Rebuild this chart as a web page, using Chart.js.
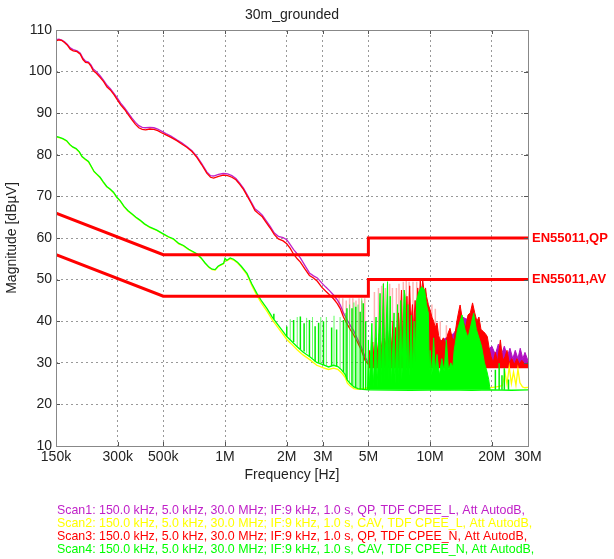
<!DOCTYPE html>
<html>
<head>
<meta charset="utf-8">
<script src="https://cdn.jsdelivr.net/npm/chart.js@4"></script>
<style>
  html, body { margin: 0; padding: 0; background: #fff; }
</style>
</head>
<body>
<canvas id="emc" width="614" height="559"></canvas>
<script>
// axis ticks
const freqTicks = [150e3, 300e3, 500e3, 1e6, 2e6, 3e6, 5e6, 10e6, 20e6, 30e6];
const freqTickLabels = ['150k', '300k', '500k', '1M', '2M', '3M', '5M', '10M', '20M', '30M'];

// EN55011 limits
const limitFreq = [150e3, 500e3, 5e6, 5e6, 30e6];
const limitQP = [66, 56, 56, 60, 60];
const limitAV = [56, 46, 46, 50, 50];

// Scan1 (QP, L) - magenta
const scan1Line = [[150e3,107.7],[155e3,107.8],[160e3,107.6],[165e3,107.2],[170e3,106.6],[176e3,105.7],[182e3,105.3],[190e3,105.0],[197e3,104.4],[203e3,103.2],[209e3,102.5],[216e3,102.3],[222e3,101.6],[228e3,100.6],[236e3,100.0],[246e3,99.0],[256e3,97.9],[266e3,96.7],[276e3,95.9],[288e3,94.7],[297e3,93.8],[310e3,92.4],[324e3,91.3],[338e3,90.0],[352e3,88.8],[366e3,87.8],[380e3,87.0],[395e3,86.6],[410e3,86.5],[430e3,86.6],[450e3,86.5],[470e3,86.2],[490e3,85.7],[515e3,85.1],[545e3,84.5],[582e3,83.6],[615e3,82.9],[651e3,82.0],[690e3,81.0],[729e3,79.6],[770e3,77.9],[815e3,75.9],[850e3,75.0],[880e3,74.9],[930e3,75.3],[980e3,75.5],[1.03e6,75.4],[1.08e6,75.0],[1.13e6,74.3],[1.18e6,73.2],[1.23e6,72.0],[1.28e6,70.5],[1.34e6,68.7],[1.40e6,67.0],[1.46e6,66.3],[1.52e6,65.5],[1.58e6,64.3],[1.66e6,62.8],[1.74e6,61.2],[1.82e6,60.4],[1.92e6,60.1],[2.0e6,59.6],[2.08e6,58.4],[2.16e6,57.2],[2.25e6,56.2],[2.33e6,55.2],[2.45e6,53.4],[2.58e6,51.6],[2.7e6,50.9],[2.82e6,50.4],[2.96e6,49.2],[3.1e6,48.2],[3.24e6,47.3],[3.38e6,46.3],[3.52e6,45.2],[3.64e6,44.0],[3.78e6,42.0],[3.93e6,40.4],[4.08e6,39.0],[4.23e6,37.8],[4.42e6,35.8],[4.62e6,33.8],[4.82e6,31.4],[5.0e6,30.0]];
const scan1Env = [[5.0e6,30.0],[5.5e6,32.0],[6.0e6,34.0],[6.5e6,33.0],[7.0e6,35.0],[7.5e6,34.0],[8.0e6,36.0],[8.5e6,35.0],[9.0e6,36.0],[9.5e6,37.0],[10.0e6,35.0],[10.5e6,34.0],[11.0e6,35.0],[12.0e6,36.0],[13.0e6,37.0],[13.8e6,39.0],[14.4e6,41.0],[15.0e6,40.5],[15.6e6,41.0],[16.2e6,40.0],[17.0e6,37.0],[18.0e6,35.0],[19.0e6,33.0],[20.0e6,34.0],[20.8e6,32.0],[21.5e6,34.5],[22.3e6,32.0],[23.0e6,34.0],[23.8e6,31.5],[24.5e6,33.5],[25.3e6,31.0],[26.0e6,33.0],[26.8e6,31.0],[27.5e6,33.5],[28.3e6,31.0],[29.0e6,32.5],[30.0e6,30.5]];

// Scan2 (CAV, L) - yellow
const scan2Line = [[150e3,84.3],[156e3,84.1],[162e3,83.8],[169e3,83.3],[175e3,82.4],[181e3,81.8],[188e3,81.4],[195e3,80.6],[201e3,79.5],[208e3,78.9],[216e3,78.3],[223e3,77.1],[230e3,75.9],[238e3,75.2],[246e3,74.5],[255e3,73.4],[265e3,72.3],[275e3,71.7],[286e3,70.9],[297e3,69.7],[308e3,68.9],[322e3,67.5],[336e3,66.5],[350e3,65.8],[368e3,64.9],[385e3,64.2],[405e3,63.3],[431e3,62.5],[465e3,61.8],[500e3,60.9],[530e3,60.2],[560e3,59.7],[595e3,58.6],[627e3,58.1],[665e3,57.2],[700e3,56.6],[729e3,56.1],[765e3,55.1],[800e3,53.9],[835e3,52.9],[865e3,52.4],[895e3,52.3],[925e3,53.1],[955e3,53.5],[985e3,53.8],[1.0e6,54.9],[1.02e6,54.5],[1.06e6,55.0],[1.1e6,54.7],[1.15e6,54.0],[1.2e6,53.0],[1.28e6,51.2],[1.35e6,48.6],[1.43e6,46.2],[1.51e6,44.2],[1.6e6,42.4],[1.7e6,40.3],[1.79e6,38.8],[1.9e6,37.1],[2.0e6,35.6],[2.1e6,34.6],[2.24e6,33.2],[2.4e6,31.9],[2.6e6,30.7],[2.8e6,29.4],[3.02e6,28.8],[3.2e6,28.4],[3.38e6,28.7],[3.55e6,28.4],[3.7e6,27.6],[3.85e6,26.5],[3.95e6,25.1],[4.08e6,24.4],[4.25e6,23.8],[4.45e6,23.6],[4.7e6,23.8],[5.0e6,24.0],[5.3e6,24.3],[5.6e6,24.0],[5.9e6,25.2],[6.15e6,26.5],[6.3e6,25.0],[6.6e6,24.2],[6.9e6,25.6],[7.2e6,24.4],[7.5e6,25.8],[7.8e6,24.6],[8.1e6,26.2],[8.5e6,24.8],[9.0e6,26.4],[9.3e6,27.0],[9.6e6,25.0],[10.0e6,26.0],[10.4e6,26.6],[10.8e6,25.0],[11.3e6,26.0],[11.8e6,24.6],[12.4e6,25.0],[13.0e6,24.0],[14.0e6,24.3],[15.0e6,23.9],[17.0e6,24.0],[19.0e6,23.9],[21.0e6,24.2],[22.5e6,24.5],[23.2e6,27.5],[23.7e6,24.8],[24.3e6,29.0],[24.9e6,25.0],[25.5e6,27.8],[26.2e6,24.6],[26.8e6,28.5],[27.4e6,25.2],[28.2e6,24.2],[29.0e6,24.0],[30.0e6,24.1]];

// Scan3 (QP, N) - red
const scan3Line = [[150e3,107.4],[155e3,107.6],[160e3,107.5],[165e3,107.0],[170e3,106.4],[176e3,105.4],[182e3,105.0],[190e3,104.8],[197e3,104.2],[203e3,102.9],[209e3,102.2],[216e3,102.1],[222e3,101.3],[228e3,100.2],[236e3,99.6],[246e3,98.6],[256e3,97.6],[266e3,96.3],[276e3,95.6],[288e3,94.4],[297e3,93.4],[310e3,92.0],[324e3,90.9],[338e3,89.6],[352e3,88.4],[366e3,87.3],[380e3,86.5],[395e3,86.1],[410e3,86.0],[430e3,86.2],[450e3,86.1],[470e3,85.8],[490e3,85.3],[515e3,84.8],[545e3,84.2],[582e3,83.4],[615e3,82.6],[651e3,81.8],[690e3,80.8],[729e3,79.4],[770e3,77.6],[815e3,75.6],[850e3,74.6],[880e3,74.4],[930e3,74.8],[980e3,75.1],[1.03e6,75.0],[1.08e6,74.6],[1.13e6,74.0],[1.18e6,72.9],[1.23e6,71.7],[1.28e6,70.2],[1.34e6,68.4],[1.40e6,66.6],[1.46e6,65.8],[1.52e6,65.1],[1.58e6,63.9],[1.66e6,62.4],[1.74e6,60.8],[1.82e6,59.8],[1.92e6,59.3],[2.0e6,58.6],[2.08e6,57.5],[2.16e6,56.1],[2.25e6,55.0],[2.33e6,54.2],[2.45e6,52.6],[2.58e6,51.0],[2.7e6,50.4],[2.82e6,49.6],[2.96e6,48.2],[3.1e6,47.2],[3.24e6,46.3],[3.38e6,45.4],[3.52e6,44.3],[3.64e6,43.1],[3.78e6,41.0],[3.93e6,39.4],[4.08e6,38.0],[4.23e6,36.8],[4.42e6,35.0],[4.62e6,33.0],[4.82e6,30.6],[5.0e6,29.6]];
const scan3Env = [[5.0e6,29.6],[5.08e6,33.0],[5.15e6,30.5],[5.25e6,35.0],[5.32e6,31.0],[5.45e6,36.0],[5.52e6,32.0],[5.65e6,37.0],[5.75e6,33.0],[5.88e6,36.0],[5.92e6,49.0],[5.97e6,36.0],[6.1e6,34.0],[6.2e6,38.0],[6.3e6,33.5],[6.39e6,37.0],[6.5e6,34.0],[6.6e6,40.0],[6.68e6,34.0],[6.8e6,38.5],[6.9e6,35.0],[7.0e6,42.0],[7.1e6,36.0],[7.25e6,47.5],[7.33e6,37.0],[7.45e6,40.0],[7.55e6,36.0],[7.71e6,46.0],[7.8e6,38.0],[7.95e6,48.5],[8.05e6,39.0],[8.2e6,44.0],[8.3e6,38.0],[8.45e6,45.0],[8.55e6,40.0],[8.7e6,48.0],[8.85e6,44.0],[8.95e6,50.0],[9.1e6,46.0],[9.2e6,50.0],[9.35e6,47.0],[9.5e6,48.0],[9.6e6,46.0],[9.8e6,44.0],[10.0e6,42.7],[10.2e6,41.0],[10.4e6,40.0],[10.6e6,38.5],[10.8e6,39.6],[11.0e6,36.5],[11.3e6,35.0],[11.6e6,36.0],[11.9e6,34.5],[12.2e6,37.0],[12.5e6,38.3],[12.8e6,36.0],[13.1e6,35.5],[13.5e6,40.0],[13.8e6,42.5],[14.0e6,43.9],[14.3e6,41.0],[14.6e6,39.5],[14.9e6,38.5],[15.3e6,41.5],[15.7e6,42.0],[16.1e6,44.4],[16.5e6,42.0],[16.9e6,40.0],[17.3e6,41.0],[17.7e6,38.0],[18.2e6,37.5],[18.6e6,37.0],[19.0e6,36.3],[19.4e6,33.5],[19.8e6,31.5],[20.3e6,30.0],[20.8e6,32.5],[21.3e6,30.2],[22.0e6,35.5],[22.6e6,30.5],[23.2e6,31.5],[23.7e6,33.0],[24.3e6,30.0],[25.0e6,31.0],[25.7e6,29.6],[26.5e6,31.0],[27.2e6,29.7],[28.0e6,30.6],[29.0e6,29.6],[30.0e6,30.0]];
// faint red spikes [freq, low, high]
const scan3Pale = [[3.45e6,45.0,46.0],[3.6e6,43.6,46.0],[3.75e6,41.4,45.5],[3.9e6,39.7,45.0],[4.05e6,38.3,45.5],[4.2e6,37.0,45.5],[4.35e6,35.8,45.0],[4.5e6,34.3,45.5],[4.65e6,32.7,45.0],[4.8e6,30.9,45.5],[5.35e6,31.0,47.0],[5.6e6,33.0,48.0],[5.8e6,34.0,48.5],[6.05e6,35.0,48.0],[6.35e6,34.0,49.0],[6.55e6,35.0,48.0],[6.85e6,36.0,48.0],[7.05e6,38.0,49.0],[7.4e6,38.0,49.5],[7.65e6,38.0,49.8],[7.9e6,40.0,49.5],[8.25e6,40.0,49.5],[8.6e6,42.0,49.5],[10.2e6,41.0,44.0],[10.6e6,38.5,43.0],[11.2e6,35.0,40.0],[12.0e6,35.0,39.0]];

// Scan4 (CAV, N) - green
const scan4Line = [[150e3,84.4],[156e3,84.2],[162e3,83.9],[169e3,83.4],[175e3,82.5],[181e3,81.9],[188e3,81.5],[195e3,80.7],[201e3,79.6],[208e3,79.0],[216e3,78.4],[223e3,77.2],[230e3,76.0],[238e3,75.3],[246e3,74.6],[255e3,73.5],[265e3,72.4],[275e3,71.8],[286e3,71.0],[297e3,69.8],[308e3,69.0],[322e3,67.6],[336e3,66.6],[350e3,65.9],[368e3,65.0],[385e3,64.3],[405e3,63.4],[431e3,62.6],[465e3,61.9],[500e3,61.0],[530e3,60.3],[560e3,59.8],[595e3,58.7],[627e3,58.2],[665e3,57.3],[700e3,56.7],[729e3,56.2],[765e3,55.2],[800e3,54.0],[835e3,53.0],[865e3,52.5],[895e3,52.4],[925e3,53.2],[955e3,53.6],[985e3,53.9],[1.0e6,55.1],[1.02e6,54.6],[1.06e6,55.2],[1.1e6,54.9],[1.15e6,54.2],[1.2e6,53.2],[1.28e6,51.5],[1.35e6,49.0],[1.43e6,46.7],[1.51e6,44.8],[1.6e6,43.1],[1.7e6,41.0],[1.79e6,39.5],[1.9e6,37.8],[2.0e6,36.3],[2.1e6,35.3],[2.24e6,33.9],[2.4e6,32.6],[2.6e6,31.4],[2.8e6,30.1],[3.02e6,29.5],[3.2e6,29.0],[3.38e6,29.4],[3.55e6,29.1],[3.7e6,28.3],[3.85e6,27.2],[3.95e6,25.8],[4.08e6,25.0],[4.25e6,24.2],[4.45e6,23.8],[4.7e6,23.6],[5.0e6,23.5],[8.0e6,23.4],[12.0e6,23.5],[16.0e6,23.4],[20.0e6,23.5],[25.0e6,23.4],[30.0e6,23.5]];
const scan4Env = [[4.95e6,23.5],[5.0e6,35.5],[5.05e6,23.5],[5.2e6,39.5],[5.28e6,24.0],[5.45e6,41.0],[5.52e6,24.0],[5.7e6,46.7],[5.78e6,25.0],[5.92e6,49.0],[6.0e6,26.0],[6.2e6,49.5],[6.28e6,26.0],[6.39e6,46.0],[6.48e6,25.0],[6.67e6,42.0],[6.75e6,25.0],[6.94e6,44.0],[7.02e6,25.0],[7.2e6,45.0],[7.28e6,26.0],[7.47e6,47.5],[7.55e6,45.9],[7.7e6,28.0],[7.8e6,44.0],[7.9e6,27.0],[8.1e6,41.5],[8.2e6,28.0],[8.35e6,40.0],[8.45e6,30.0],[8.6e6,45.0],[8.8e6,47.0],[9.1e6,48.3],[9.4e6,47.5],[9.6e6,44.0],[9.8e6,42.0],[9.9e6,28.0],[10.0e6,33.0],[10.2e6,27.0],[10.4e6,36.0],[10.6e6,28.0],[10.8e6,32.0],[11.1e6,27.0],[11.4e6,31.0],[11.7e6,28.0],[12.0e6,35.5],[12.3e6,28.0],[12.6e6,30.0],[12.9e6,29.0],[13.1e6,33.0],[13.6e6,38.0],[14.0e6,40.0],[14.3e6,41.5],[14.8e6,38.0],[15.3e6,36.0],[15.8e6,39.0],[16.3e6,41.9],[16.8e6,38.0],[17.3e6,36.0],[17.8e6,34.0],[18.4e6,30.0],[18.9e6,28.0],[19.3e6,26.0],[19.6e6,23.5]];
// spikes [freq, low, high]
const scan4Spikes = [[1.73e6,40.5,41.8],[2.0e6,36.3,38.7],[2.16e6,35.0,40.3],[2.33e6,33.3,41.1],[2.43e6,32.7,39.5],[2.58e6,31.5,40.3],[2.75e6,30.3,38.8],[2.86e6,30.0,39.6],[3.02e6,29.5,40.0],[3.31e6,29.3,38.5],[3.5e6,29.1,38.0],[3.78e6,27.8,40.3],[3.93e6,26.0,43.1],[4.16e6,24.6,43.1],[4.34e6,24.0,43.5],[4.56e6,23.6,42.3],[4.72e6,23.5,44.3],[4.85e6,23.5,40.0],[20.8e6,23.5,28.3],[21.7e6,23.5,29.9],[22.4e6,23.5,27.0],[23.0e6,23.5,28.7],[24.1e6,23.5,26.0]];
const scan4Pale = [[2.08e6,35.5,40.5],[2.25e6,33.8,41.0],[2.5e6,32.4,40.8],[2.67e6,31.1,41.0],[2.93e6,29.8,41.0],[3.12e6,29.3,41.0],[3.4e6,29.4,41.3],[3.64e6,28.6,41.0],[3.86e6,27.1,42.0],[4.05e6,25.1,44.0],[4.25e6,24.2,44.5],[4.45e6,23.8,44.0],[4.64e6,23.6,45.5]];

const scanLabels = [
  'Scan1: 150.0 kHz, 5.0 kHz, 30.0 MHz; IF:9 kHz, 1.0 s, QP, TDF CPEE_L, Att AutodB,',
  'Scan2: 150.0 kHz, 5.0 kHz, 30.0 MHz; IF:9 kHz, 1.0 s, CAV, TDF CPEE_L, Att AutodB,',
  'Scan3: 150.0 kHz, 5.0 kHz, 30.0 MHz; IF:9 kHz, 1.0 s, QP, TDF CPEE_N, Att AutodB,',
  'Scan4: 150.0 kHz, 5.0 kHz, 30.0 MHz; IF:9 kHz, 1.0 s, CAV, TDF CPEE_N, Att AutodB,'
];
const scanColors = ['#c020c8', '#ffff00', '#ff0000', '#00ff00'];

const FONT = "'Liberation Sans', Arial, Helvetica, sans-serif";
Chart.defaults.font.family = FONT;

function pts(list) {
  return list.map(p => ({x: p[0], y: p[1]}));
}
function spikes(list) {
  const out = [];
  list.forEach(s => {
    out.push({x: s[0], y: s[1]}, {x: s[0], y: s[2]}, {x: s[0], y: s[1]}, {x: s[0], y: null});
  });
  return out;
}
function limitPts(vals) {
  return limitFreq.map((f, i) => ({x: f, y: vals[i]}));
}

function line(data, color, width, order, extra) {
  return Object.assign({
    data: data, borderColor: color, borderWidth: width, pointRadius: 0,
    tension: 0, fill: false, order: order
  }, extra || {});
}

// draws title, frame, inner ticks, limit names and scan notes
const frame = {
  id: 'frame',
  afterDatasetsDraw(chart) {
    const {ctx, chartArea: a, scales} = chart;
    ctx.save();
    ctx.strokeStyle = '#555';
    ctx.lineWidth = 1;
    freqTicks.slice(1, -1).forEach(f => {
      const x = Math.round(scales.x.getPixelForValue(f)) + 0.5;
      ctx.beginPath();
      ctx.moveTo(x, a.bottom); ctx.lineTo(x, a.bottom - 4);
      ctx.moveTo(x, a.top); ctx.lineTo(x, a.top + 4);
      ctx.stroke();
    });
    for (let v = 20; v <= 100; v += 10) {
      const y = Math.round(scales.y.getPixelForValue(v)) + 0.5;
      ctx.beginPath();
      ctx.moveTo(a.left, y); ctx.lineTo(a.left + 4, y);
      ctx.moveTo(a.right, y); ctx.lineTo(a.right - 4, y);
      ctx.stroke();
    }
    ctx.strokeStyle = '#888';
    ctx.strokeRect(Math.round(a.left) + 0.5, Math.round(a.top) + 0.5,
      Math.round(a.right - a.left), Math.round(a.bottom - a.top));
    ctx.restore();
  },
  afterDraw(chart) {
    const {ctx, chartArea: a, scales} = chart;
    ctx.save();
    ctx.fillStyle = '#222';
    ctx.font = '14px ' + FONT;
    ctx.textAlign = 'center';
    ctx.textBaseline = 'middle';
    ctx.fillText('30m_grounded', (a.left + a.right) / 2, 15);

    ctx.font = 'bold 13px ' + FONT;
    ctx.textAlign = 'left';
    ctx.fillStyle = '#ff0000';
    ctx.fillText('EN55011,QP', a.right + 4, scales.y.getPixelForValue(limitQP[limitQP.length - 1]));
    ctx.fillText('EN55011,AV', a.right + 4, scales.y.getPixelForValue(limitAV[limitAV.length - 1]));

    ctx.font = '12.4px ' + FONT;
    scanLabels.forEach((t, i) => {
      ctx.fillStyle = scanColors[i];
      ctx.fillText(t, 57, 511 + i * 12.8);
    });
    ctx.restore();
  }
};

new Chart(document.getElementById('emc'), {
  type: 'line',
  data: {
    datasets: [
      line(limitPts(limitQP), '#ff0000', 3, 0),
      line(limitPts(limitAV), '#ff0000', 3, 0),
      line(spikes(scan4Spikes), '#00ee00', 1.5, 1),
      line(spikes(scan4Pale), 'rgba(0,255,0,0.35)', 1, 2),
      line(pts(scan4Line), '#00ff00', 1.3, 3),
      line(pts(scan4Env), '#00ff00', 1, 4, {fill: {value: 23.5}, backgroundColor: '#00ff00'}),
      line(pts(scan2Line), '#ffff00', 1.3, 5),
      line(spikes(scan3Pale), 'rgba(255,0,0,0.3)', 1.5, 6),
      line(pts(scan3Line), '#ff0000', 1.3, 7),
      line(pts(scan3Env), '#ff0000', 1, 8, {fill: {value: 28.7}, backgroundColor: '#ff0000'}),
      line(pts(scan1Line), '#c020c8', 1.3, 9),
      line(pts(scan1Env), '#b010c0', 1, 10, {fill: {value: 29}, backgroundColor: '#b010c0'})
    ]
  },
  options: {
    responsive: false,
    animation: false,
    layout: {padding: {top: 30, right: 86, bottom: 68, left: 0}},
    plugins: {legend: {display: false}, tooltip: {enabled: false}},
    scales: {
      x: {
        type: 'logarithmic',
        min: 150e3, max: 30e6,
        afterBuildTicks: s => { s.ticks = freqTicks.map(v => ({value: v})); },
        afterFit: s => { s.height = 45; },
        ticks: {
          autoSkip: false, maxRotation: 0, padding: 3, color: '#222',
          font: {size: 14},
          callback: (v, i) => freqTickLabels[i]
        },
        grid: {color: '#999', drawTicks: false},
        border: {display: false, dash: [2, 3]},
        title: {display: true, text: 'Frequency [Hz]', color: '#222', font: {size: 14}, padding: {top: 0, bottom: 7}}
      },
      y: {
        min: 10, max: 110,
        afterFit: s => { s.width = 56; },
        ticks: {stepSize: 10, padding: 4, color: '#222', font: {size: 14}},
        grid: {color: '#999', drawTicks: false},
        border: {display: false, dash: [2, 3]},
        title: {display: true, text: 'Magnitude [dBµV]', color: '#222', font: {size: 14}, padding: {top: 4, bottom: 0}}
      }
    }
  },
  plugins: [frame]
});
</script>
</body>
</html>
